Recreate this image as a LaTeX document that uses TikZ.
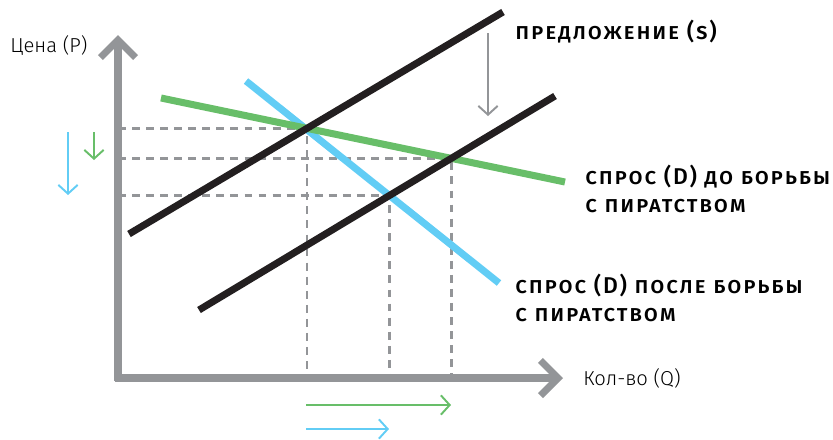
\documentclass[tikz,border=0pt]{standalone}
\usepackage{fontspec}
\setmainfont{Fira Sans Light}
\newfontfamily\handfont[Letters=SmallCaps, LetterSpace=8]{Fira Sans Medium}
\usepackage{tikz}
\usetikzlibrary{arrows.meta, positioning}
\definecolor{axisgray}{RGB}{147,149,152}
\definecolor{linegreen}{RGB}{104,190,105}
\definecolor{lineblue}{RGB}{98,205,245}
\definecolor{lineblack}{RGB}{35,31,32}

\begin{document}
\begin{tikzpicture}[
    x=0.02cm, y=-0.02cm,
    axis/.style={draw=axisgray, line width=4pt,
                 -{Straight Barb[length=10pt, width=20pt, line width=4pt]}},
    curve/.style={line width=4pt},
    guide/.style={draw=axisgray, line width=1.4pt, dash pattern=on 4.5pt off 3.5pt},
    shiftarrow/.style={line width=1.1pt, -{Straight Barb[length=5pt, width=11pt, line width=1.1pt]}},
    axislabel/.style={font=\fontsize{11.5}{13}\selectfont, anchor=west, inner sep=0pt},
    tag/.style={font=\handfont\fontsize{13}{16}\selectfont, anchor=west,
                align=left, inner sep=0pt}
]
  \useasboundingbox (0,0) rectangle (833,440);

  % line end points
  \coordinate (s1a) at (129,234);  \coordinate (s1b) at (503,12);
  \coordinate (s2a) at (199,310);  \coordinate (s2b) at (555,96);
  \coordinate (d1a) at (161,98);   \coordinate (d1b) at (565,182);
  \coordinate (d2a) at (246,81);   \coordinate (d2b) at (499,283);
  \coordinate (origin) at (118,378);

  % equilibrium points
  \coordinate (e1) at (intersection of s1a--s1b and d1a--d1b);
  \coordinate (e2) at (intersection of s2a--s2b and d1a--d1b);
  \coordinate (e3) at (intersection of s2a--s2b and d2a--d2b);

  % guides
  \foreach \e in {e1, e2, e3} {
    \draw[guide] (origin |- \e) -- (\e) -- (\e |- origin);
  }

  % axes
  \draw[axis] (origin) ++(0,3) -- (118,35);
  \draw[axis] (origin) ++(-3,0) -- (563,378);
  \node[axislabel] (plabel) at (10,46) {Цена (P)};
  \node[axislabel] (qlabel) at (583,378) {Кол-во (Q)};

  % curves
  \draw[curve, lineblue] (d2a) -- (d2b);
  \draw[curve, linegreen] (d1a) -- (d1b);
  \draw[curve, lineblack] (s1a) -- (s1b);
  \draw[curve, lineblack] (s2a) -- (s2b);

  \node[tag] (stag) at (515,32) {предложение (s)};
  \node[tag] (d1tag) at (585,189) {спрос (D) до борьбы\\с пиратством};
  \node[tag] (d2tag) at (515,298) {спрос (D) после борьбы\\с пиратством};

  % shifts
  \coordinate (sup) at (488,33);   \coordinate (sdown) at (488,116);
  \coordinate (pb1) at (68,132);   \coordinate (pb2) at (68,195);
  \coordinate (pg1) at (94,132);   \coordinate (pg2) at (94,160);
  \coordinate (qg1) at (306,405);  \coordinate (qg2) at (451,405);
  \coordinate (qb1) at (306,429);  \coordinate (qb2) at (389,429);
  \draw[shiftarrow, axisgray] (sup) -- (sdown);
  \draw[shiftarrow, lineblue] (pb1) -- (pb2);
  \draw[shiftarrow, linegreen] (pg1) -- (pg2);
  \draw[shiftarrow, linegreen] (qg1) -- (qg2);
  \draw[shiftarrow, lineblue] (qb1) -- (qb2);
\end{tikzpicture}
\end{document}
